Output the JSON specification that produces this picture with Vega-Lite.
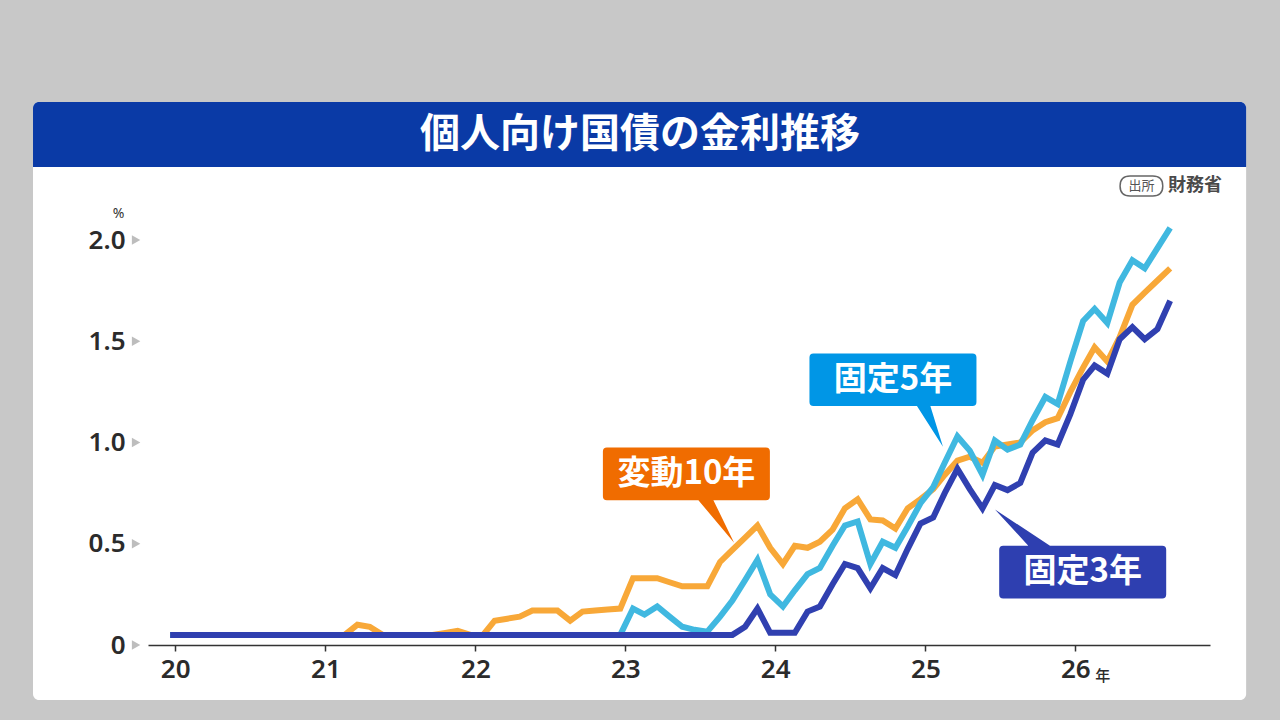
{
  "$schema": "https://vega.github.io/schema/vega-lite/v6.json",
  "description": "個人向け国債の金利推移 (変動10年・固定5年・固定3年)",
  "width": 1062,
  "height": 425.25,
  "autosize": {"type": "none"},
  "padding": {"left": 148, "top": 219.75, "right": 70, "bottom": 75},
  "background": "#c8c8c8",
  "title": {
    "text": "個人向け国債の金利推移",
    "color": "#ffffff",
    "fontSize": 40,
    "fontWeight": "bold",
    "anchor": "middle",
    "frame": "group",
    "baseline": "middle",
    "dx": -39,
    "offset": -73
  },
  "config": {
    "view": {"stroke": null},
    "font": "Noto Sans CJK JP",
    "axisX": {
      "grid": false,
      "domainColor": "#333333",
      "domainWidth": 1.5,
      "tickColor": "#333333",
      "tickWidth": 1.5,
      "tickSize": 6,
      "labelFont": "Noto Sans",
      "labelFontSize": 26,
      "labelFontWeight": 600,
      "labelColor": "#2b2b2b",
      "labelPadding": 5
    },
    "axisY": {
      "grid": false,
      "domain": false,
      "ticks": false,
      "labelPadding": 23,
      "labelFont": "Noto Sans",
      "labelFontSize": 26,
      "labelFontWeight": 600,
      "labelColor": "#2b2b2b",
      "titleAngle": 0,
      "titleX": -30,
      "titleY": -6,
      "titleAlign": "center",
      "titleBaseline": "middle",
      "titleFont": "Noto Sans",
      "titleFontSize": 14,
      "titleFontWeight": "normal",
      "titleColor": "#333333"
    }
  },
  "datasets": {
    "rates": [
      {"month": "2020/01/01", "変動10年": 0.05, "固定5年": 0.05, "固定3年": 0.05},
      {"month": "2020/02/01", "変動10年": 0.05, "固定5年": 0.05, "固定3年": 0.05},
      {"month": "2020/03/01", "変動10年": 0.05, "固定5年": 0.05, "固定3年": 0.05},
      {"month": "2020/04/01", "変動10年": 0.05, "固定5年": 0.05, "固定3年": 0.05},
      {"month": "2020/05/01", "変動10年": 0.05, "固定5年": 0.05, "固定3年": 0.05},
      {"month": "2020/06/01", "変動10年": 0.05, "固定5年": 0.05, "固定3年": 0.05},
      {"month": "2020/07/01", "変動10年": 0.05, "固定5年": 0.05, "固定3年": 0.05},
      {"month": "2020/08/01", "変動10年": 0.05, "固定5年": 0.05, "固定3年": 0.05},
      {"month": "2020/09/01", "変動10年": 0.05, "固定5年": 0.05, "固定3年": 0.05},
      {"month": "2020/10/01", "変動10年": 0.05, "固定5年": 0.05, "固定3年": 0.05},
      {"month": "2020/11/01", "変動10年": 0.05, "固定5年": 0.05, "固定3年": 0.05},
      {"month": "2020/12/01", "変動10年": 0.05, "固定5年": 0.05, "固定3年": 0.05},
      {"month": "2021/01/01", "変動10年": 0.05, "固定5年": 0.05, "固定3年": 0.05},
      {"month": "2021/02/01", "変動10年": 0.05, "固定5年": 0.05, "固定3年": 0.05},
      {"month": "2021/03/01", "変動10年": 0.05, "固定5年": 0.05, "固定3年": 0.05},
      {"month": "2021/04/01", "変動10年": 0.10, "固定5年": 0.05, "固定3年": 0.05},
      {"month": "2021/05/01", "変動10年": 0.09, "固定5年": 0.05, "固定3年": 0.05},
      {"month": "2021/06/01", "変動10年": 0.05, "固定5年": 0.05, "固定3年": 0.05},
      {"month": "2021/07/01", "変動10年": 0.05, "固定5年": 0.05, "固定3年": 0.05},
      {"month": "2021/08/01", "変動10年": 0.05, "固定5年": 0.05, "固定3年": 0.05},
      {"month": "2021/09/01", "変動10年": 0.05, "固定5年": 0.05, "固定3年": 0.05},
      {"month": "2021/10/01", "変動10年": 0.05, "固定5年": 0.05, "固定3年": 0.05},
      {"month": "2021/11/01", "変動10年": 0.06, "固定5年": 0.05, "固定3年": 0.05},
      {"month": "2021/12/01", "変動10年": 0.07, "固定5年": 0.05, "固定3年": 0.05},
      {"month": "2022/01/01", "変動10年": 0.05, "固定5年": 0.05, "固定3年": 0.05},
      {"month": "2022/02/01", "変動10年": 0.05, "固定5年": 0.05, "固定3年": 0.05},
      {"month": "2022/03/01", "変動10年": 0.12, "固定5年": 0.05, "固定3年": 0.05},
      {"month": "2022/04/01", "変動10年": 0.13, "固定5年": 0.05, "固定3年": 0.05},
      {"month": "2022/05/01", "変動10年": 0.14, "固定5年": 0.05, "固定3年": 0.05},
      {"month": "2022/06/01", "変動10年": 0.17, "固定5年": 0.05, "固定3年": 0.05},
      {"month": "2022/07/01", "変動10年": 0.17, "固定5年": 0.05, "固定3年": 0.05},
      {"month": "2022/08/01", "変動10年": 0.17, "固定5年": 0.05, "固定3年": 0.05},
      {"month": "2022/09/01", "変動10年": 0.12, "固定5年": 0.05, "固定3年": 0.05},
      {"month": "2022/10/01", "変動10年": 0.165, "固定5年": 0.05, "固定3年": 0.05},
      {"month": "2022/11/01", "変動10年": 0.17, "固定5年": 0.05, "固定3年": 0.05},
      {"month": "2022/12/01", "変動10年": 0.175, "固定5年": 0.05, "固定3年": 0.05},
      {"month": "2023/01/01", "変動10年": 0.18, "固定5年": 0.05, "固定3年": 0.05},
      {"month": "2023/02/01", "変動10年": 0.33, "固定5年": 0.18, "固定3年": 0.05},
      {"month": "2023/03/01", "変動10年": 0.33, "固定5年": 0.15, "固定3年": 0.05},
      {"month": "2023/04/01", "変動10年": 0.33, "固定5年": 0.19, "固定3年": 0.05},
      {"month": "2023/05/01", "変動10年": 0.31, "固定5年": 0.14, "固定3年": 0.05},
      {"month": "2023/06/01", "変動10年": 0.29, "固定5年": 0.09, "固定3年": 0.05},
      {"month": "2023/07/01", "変動10年": 0.29, "固定5年": 0.075, "固定3年": 0.05},
      {"month": "2023/08/01", "変動10年": 0.29, "固定5年": 0.066, "固定3年": 0.05},
      {"month": "2023/09/01", "変動10年": 0.41, "固定5年": 0.14, "固定3年": 0.05},
      {"month": "2023/10/01", "変動10年": 0.47, "固定5年": 0.22, "固定3年": 0.05},
      {"month": "2023/11/01", "変動10年": 0.53, "固定5年": 0.32, "固定3年": 0.09},
      {"month": "2023/12/01", "変動10年": 0.59, "固定5年": 0.42, "固定3年": 0.18},
      {"month": "2024/01/01", "変動10年": 0.48, "固定5年": 0.25, "固定3年": 0.06},
      {"month": "2024/02/01", "変動10年": 0.40, "固定5年": 0.19, "固定3年": 0.06},
      {"month": "2024/03/01", "変動10年": 0.49, "固定5年": 0.27, "固定3年": 0.06},
      {"month": "2024/04/01", "変動10年": 0.48, "固定5年": 0.35, "固定3年": 0.165},
      {"month": "2024/05/01", "変動10年": 0.51, "固定5年": 0.38, "固定3年": 0.19},
      {"month": "2024/06/01", "変動10年": 0.57, "固定5年": 0.49, "固定3年": 0.30},
      {"month": "2024/07/01", "変動10年": 0.675, "固定5年": 0.59, "固定3年": 0.40},
      {"month": "2024/08/01", "変動10年": 0.72, "固定5年": 0.61, "固定3年": 0.38},
      {"month": "2024/09/01", "変動10年": 0.62, "固定5年": 0.40, "固定3年": 0.28},
      {"month": "2024/10/01", "変動10年": 0.615, "固定5年": 0.51, "固定3年": 0.38},
      {"month": "2024/11/01", "変動10年": 0.575, "固定5年": 0.48, "固定3年": 0.345},
      {"month": "2024/12/01", "変動10年": 0.675, "固定5年": 0.585, "固定3年": 0.475},
      {"month": "2025/01/01", "変動10年": 0.72, "固定5年": 0.70, "固定3年": 0.60},
      {"month": "2025/02/01", "変動10年": 0.77, "固定5年": 0.78, "固定3年": 0.63},
      {"month": "2025/03/01", "変動10年": 0.84, "固定5年": 0.90, "固定3年": 0.75},
      {"month": "2025/04/01", "変動10年": 0.91, "固定5年": 1.03, "固定3年": 0.87},
      {"month": "2025/05/01", "変動10年": 0.93, "固定5年": 0.96, "固定3年": 0.77},
      {"month": "2025/06/01", "変動10年": 0.90, "固定5年": 0.84, "固定3年": 0.675},
      {"month": "2025/07/01", "変動10年": 0.98, "固定5年": 1.01, "固定3年": 0.79},
      {"month": "2025/08/01", "変動10年": 0.99, "固定5年": 0.965, "固定3年": 0.765},
      {"month": "2025/09/01", "変動10年": 1.00, "固定5年": 0.99, "固定3年": 0.80},
      {"month": "2025/10/01", "変動10年": 1.06, "固定5年": 1.11, "固定3年": 0.95},
      {"month": "2025/11/01", "変動10年": 1.10, "固定5年": 1.225, "固定3年": 1.01},
      {"month": "2025/12/01", "変動10年": 1.12, "固定5年": 1.19, "固定3年": 0.99},
      {"month": "2026/01/01", "変動10年": 1.25, "固定5年": 1.40, "固定3年": 1.14},
      {"month": "2026/02/01", "変動10年": 1.37, "固定5年": 1.60, "固定3年": 1.31},
      {"month": "2026/03/01", "変動10年": 1.47, "固定5年": 1.66, "固定3年": 1.38},
      {"month": "2026/04/01", "変動10年": 1.40, "固定5年": 1.59, "固定3年": 1.34},
      {"month": "2026/05/01", "変動10年": 1.52, "固定5年": 1.79, "固定3年": 1.51},
      {"month": "2026/06/01", "変動10年": 1.68, "固定5年": 1.90, "固定3年": 1.57},
      {"month": "2026/07/01", "変動10年": 1.74, "固定5年": 1.86, "固定3年": 1.51},
      {"month": "2026/08/01", "変動10年": 1.80, "固定5年": 1.96, "固定3年": 1.56},
      {"month": "2026/09/01", "変動10年": 1.86, "固定5年": 2.06, "固定3年": 1.70}
    ],
    "callouts": [
      {"label": "変動10年", "month": "2023/06/11", "rate": 0.845},
      {"label": "固定5年", "month": "2024/10/26", "rate": 1.31},
      {"label": "固定3年", "month": "2026/01/31", "rate": 0.36}
    ],
    "yticks": [{"v": 0}, {"v": 0.5}, {"v": 1}, {"v": 1.5}, {"v": 2}]
  },
  "layer": [
    {
      "data": {"values": [{}]},
      "mark": {"type": "rect", "fill": "#ffffff", "cornerRadius": 6},
      "encoding": {
        "x": {"datum": {"year": 2019, "month": 2, "date": 1}, "type": "temporal"},
        "x2": {"datum": {"year": 2027, "month": 3, "date": 5}},
        "y": {"datum": 2.681, "type": "quantitative"},
        "y2": {"datum": -0.272}
      }
    },
    {
      "data": {"values": [{}]},
      "mark": {"type": "rect", "fill": "#0a3aa6", "cornerRadiusTopLeft": 6, "cornerRadiusTopRight": 6},
      "encoding": {
        "x": {"datum": {"year": 2019, "month": 2, "date": 1}, "type": "temporal"},
        "x2": {"datum": {"year": 2027, "month": 3, "date": 5}},
        "y": {"datum": 2.681, "type": "quantitative"},
        "y2": {"datum": 2.36}
      }
    },
    {
      "data": {"values": [{}]},
      "mark": {
        "type": "point",
        "shape": "M-0.454,-0.4L0.454,-0.4Q0.854,-0.4,0.854,0Q0.854,0.4,0.454,0.4L-0.454,0.4Q-0.854,0.4,-0.854,0Q-0.854,-0.4,-0.454,-0.4Z",
        "size": 2500,
        "filled": false,
        "stroke": "#666666",
        "strokeWidth": 1.5,
        "opacity": 1
      },
      "encoding": {
        "x": {"datum": {"year": 2026, "month": 6, "date": 23}, "type": "temporal"},
        "y": {"datum": 2.267, "type": "quantitative"}
      }
    },
    {
      "data": {"values": [{}]},
      "mark": {"type": "text", "text": "出所", "fontSize": 13, "fill": "#555555", "baseline": "middle", "align": "center"},
      "encoding": {
        "x": {"datum": {"year": 2026, "month": 6, "date": 23}, "type": "temporal"},
        "y": {"datum": 2.267, "type": "quantitative"}
      }
    },
    {
      "data": {"values": [{}]},
      "mark": {"type": "text", "text": "財務省", "fontSize": 18, "fontWeight": "bold", "fill": "#4a4a4a", "baseline": "middle", "align": "right"},
      "encoding": {
        "x": {"datum": {"year": 2027, "month": 1, "date": 5}, "type": "temporal"},
        "y": {"datum": 2.267, "type": "quantitative"}
      }
    },
    {
      "data": {"name": "yticks"},
      "mark": {"type": "point", "shape": "triangle-right", "size": 95, "filled": true, "fill": "#bdbdbd", "strokeWidth": 0, "opacity": 1},
      "encoding": {
        "x": {"datum": {"year": 2019, "month": 10, "date": 10}, "type": "temporal"},
        "y": {"field": "v", "type": "quantitative"}
      }
    },
    {
      "data": {"name": "rates"},
      "transform": [
        {"fold": ["変動10年", "固定5年", "固定3年"], "as": ["series", "rate"]}
      ],
      "mark": {"type": "line", "strokeWidth": 6},
      "encoding": {
        "x": {
          "field": "month",
          "type": "temporal",
          "scale": {
            "domain": [{"year": 2019, "month": 11, "date": 8}, {"year": 2026, "month": 12, "date": 7}],
            "nice": false
          },
          "axis": {
            "values": [{"year": 2020}, {"year": 2021}, {"year": 2022}, {"year": 2023}, {"year": 2024}, {"year": 2025}, {"year": 2026}],
            "labelExpr": "timeFormat(datum.value, '%y')",
            "tickOffset": 5,
            "title": null,
            "zindex": 2
          }
        },
        "y": {
          "field": "rate",
          "type": "quantitative",
          "scale": {"domain": [0, 2.1], "nice": false},
          "axis": {
            "values": [0, 0.5, 1, 1.5, 2],
            "labelExpr": "datum.value == 0 ? '0' : format(datum.value, '.1f')",
            "title": "%",
            "zindex": 2
          }
        },
        "color": {
          "field": "series",
          "type": "nominal",
          "scale": {
            "domain": ["変動10年", "固定5年", "固定3年"],
            "range": ["#f8a838", "#40b8e0", "#3040b0"]
          },
          "legend": null
        }
      }
    },
    {
      "data": {"name": "callouts"},
      "mark": {"type": "point", "size": 40000, "filled": true, "strokeWidth": 0, "opacity": 1},
      "encoding": {
        "x": {"field": "month", "type": "temporal"},
        "y": {"field": "rate", "type": "quantitative"},
        "shape": {
          "field": "label",
          "type": "nominal",
          "scale": {
            "domain": ["変動10年", "固定5年", "固定3年"],
            "range": [
              "M-0.795,-0.263L0.795,-0.263Q0.835,-0.263,0.835,-0.223L0.835,0.223Q0.835,0.263,0.795,0.263L0.27,0.263L0.477,0.689L0.12,0.263L-0.795,0.263Q-0.835,0.263,-0.835,0.223L-0.835,-0.223Q-0.835,-0.263,-0.795,-0.263Z",
              "M-0.795,-0.263L0.795,-0.263Q0.835,-0.263,0.835,-0.223L0.835,0.223Q0.835,0.263,0.795,0.263L0.374,0.263L0.5,0.67L0.24,0.263L-0.795,0.263Q-0.835,0.263,-0.835,0.223L-0.835,-0.223Q-0.835,-0.263,-0.795,-0.263Z",
              "M-0.795,-0.263L-0.544,-0.263L-0.877,-0.627L-0.327,-0.263L0.795,-0.263Q0.835,-0.263,0.835,-0.223L0.835,0.223Q0.835,0.263,0.795,0.263L-0.795,0.263Q-0.835,0.263,-0.835,0.223L-0.835,-0.223Q-0.835,-0.263,-0.795,-0.263Z"
            ]
          },
          "legend": null
        },
        "fill": {
          "field": "label",
          "type": "nominal",
          "scale": {
            "domain": ["変動10年", "固定5年", "固定3年"],
            "range": ["#f06c00", "#0096e6", "#2e3fb0"]
          },
          "legend": null
        }
      }
    },
    {
      "data": {"name": "callouts"},
      "mark": {"type": "text", "fontSize": 33, "fontWeight": "bold", "fill": "#ffffff", "baseline": "middle", "align": "center"},
      "encoding": {
        "x": {"field": "month", "type": "temporal"},
        "y": {"field": "rate", "type": "quantitative"},
        "text": {"field": "label", "type": "nominal"}
      }
    },
    {
      "data": {"values": [{}]},
      "mark": {"type": "text", "text": "年", "fontSize": 15, "fontWeight": 500, "fill": "#2b2b2b", "baseline": "middle", "align": "center"},
      "encoding": {
        "x": {"datum": {"year": 2026, "month": 3, "date": 21}, "type": "temporal"},
        "y": {"datum": -0.153, "type": "quantitative"}
      }
    }
  ]
}
